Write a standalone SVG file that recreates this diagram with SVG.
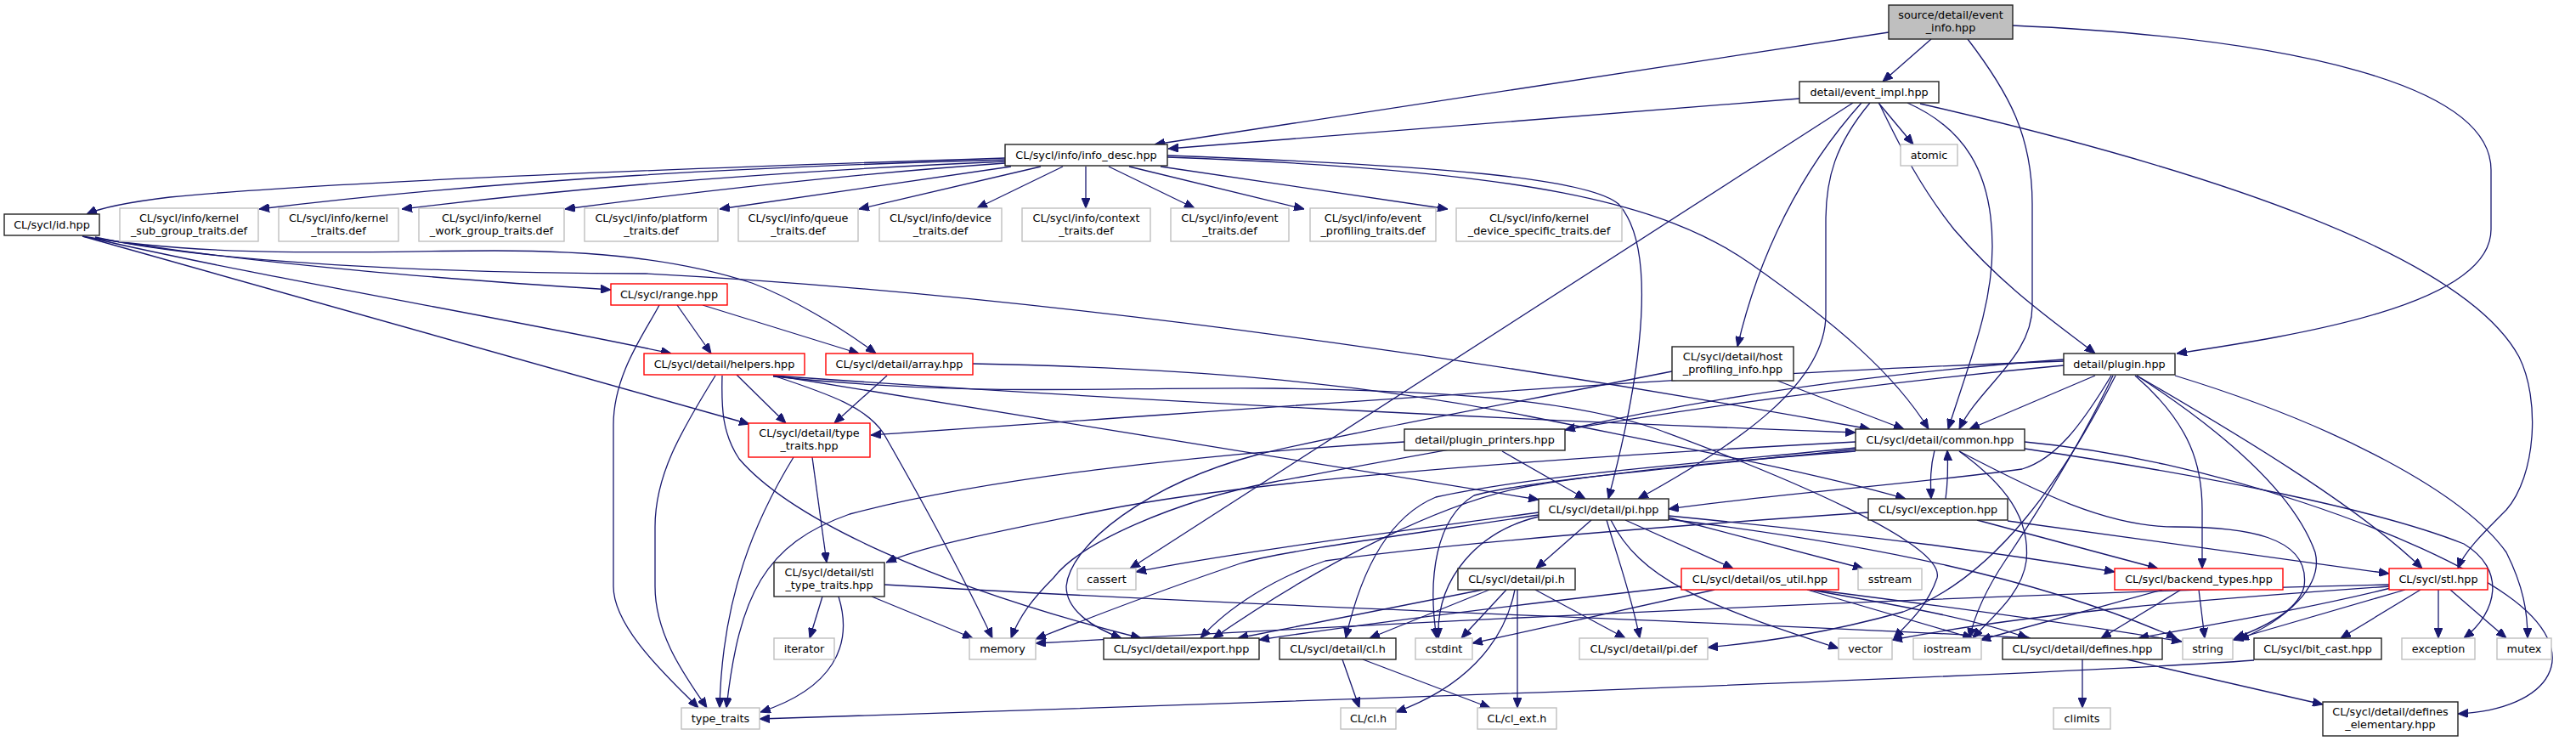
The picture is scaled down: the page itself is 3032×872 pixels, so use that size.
<svg xmlns="http://www.w3.org/2000/svg" width="3032" height="872" viewBox="0 0 3032 872">
<defs>
<marker id="ah" viewBox="0 0 12 10" refX="12" refY="5" markerWidth="12" markerHeight="10" markerUnits="userSpaceOnUse" orient="auto">
<path d="M0,0 L12,5 L0,10 z" fill="#191970" stroke="#191970" stroke-width="1"/>
</marker>
<style>
.e path{fill:none;stroke:#191970;stroke-width:1.3;marker-end:url(#ah)}
rect{stroke-width:1.4}
.nb rect{fill:#ffffff;stroke:#222222}
.ng rect{fill:#ffffff;stroke:#bfbfbf}
.nr rect{fill:#ffffff;stroke:#ff0000}
.ns rect{fill:#bfbfbf;stroke:#222222}
text{font-family:"DejaVu Sans","Liberation Sans",sans-serif;font-size:12.8px;text-anchor:middle;fill:#000000}
</style>
</defs>
<rect x="0" y="0" width="3032" height="872" fill="#ffffff"/>
<g id="connectors" class="e">
<path d="M2273,46 L2216,96"/>
<path d="M2223,38 L1359,170"/>
<path d="M2118,116 L1375,175"/>
<path d="M2211,121 L2252,170"/>
<path d="M2316,46 C2365,110 2392,160 2392,240 L2392,360 C2392,420 2330,455 2306,505"/>
<path d="M2369,30 C2700,45 2932,100 2932,200 L2932,270 C2932,360 2700,395 2562,416"/>
<path d="M2181,121 L1330,669"/>
<path d="M2191,121 C2120,200 2070,300 2045,408"/>
<path d="M2201,121 C2160,170 2149,210 2149,260 L2149,370 C2149,450 2050,520 1928,587"/>
<path d="M2245,121 C2310,150 2345,200 2345,290 C2345,360 2320,420 2293,505"/>
<path d="M2212,122 C2240,180 2262,222 2300,270 C2360,340 2420,380 2466,416"/>
<path d="M2260,122 C2600,200 2900,300 2965,420 C2990,470 2985,560 2950,600 C2920,630 2900,650 2893,669"/>
<path d="M1183,186 C900,195 400,212 200,232 C150,238 120,244 102,252"/>
<path d="M1183,188 C900,196 600,210 305,246"/>
<path d="M1183,190 C1000,198 750,212 473,246"/>
<path d="M1183,192 C1000,205 800,228 665,246"/>
<path d="M1190,196 L847,246"/>
<path d="M1225,196 L1011,246"/>
<path d="M1251,196 L1150,245"/>
<path d="M1278,196 L1278,245"/>
<path d="M1305,196 L1406,245"/>
<path d="M1329,196 L1535,246"/>
<path d="M1366,196 L1704,246"/>
<path d="M1374,183 C1700,195 1870,210 1905,240 C1950,290 1935,430 1893,587"/>
<path d="M1374,185 C1800,200 1960,240 2060,310 C2160,380 2230,440 2270,505"/>
<path d="M112,280 C300,312 550,330 719,341"/>
<path d="M97,278 C250,305 450,295 582,295 C700,295 800,305 885,333 C930,350 990,385 1031,416"/>
<path d="M107,280 C300,325 600,375 790,416"/>
<path d="M97,278 L882,499"/>
<path d="M112,279 C260,312 560,322 760,322 C1300,350 1900,450 2201,505"/>
<path d="M797,359 L837,416"/>
<path d="M827,359 L1011,416"/>
<path d="M776,359 C760,390 722,440 722,500 L722,690 C722,740 790,800 822,833"/>
<path d="M867,441 L925,498"/>
<path d="M910,442 C1300,470 1800,495 2184,509"/>
<path d="M919,443 L1811,588"/>
<path d="M850,442 C849,480 850,510 870,540 C930,610 1100,690 1343,751"/>
<path d="M910,442 C980,465 1020,480 1040,510 C1080,580 1130,670 1168,751"/>
<path d="M842,442 C800,510 771,560 771,620 L771,690 C771,750 810,800 832,833"/>
<path d="M910,443 C1150,468 1300,455 1500,457 C1700,460 1850,470 1950,505 C2100,560 2290,640 2280,680 C2270,710 2250,730 2229,751"/>
<path d="M1044,442 L982,498"/>
<path d="M1145,428 C1400,433 1600,450 1800,490 C2000,530 2150,560 2243,587"/>
<path d="M956,538 L973,662"/>
<path d="M934,538 C890,610 850,700 847,833"/>
<path d="M968,702 L953,751"/>
<path d="M1026,702 L1145,751"/>
<path d="M987,702 C1005,760 980,810 895,838"/>
<path d="M1041,688 C1500,715 2000,730 2390,751"/>
<path d="M2092,448 L2241,505"/>
<path d="M1968,437 C1750,480 1560,515 1480,535 C1350,570 1260,640 1255,690 C1255,720 1290,740 1320,751"/>
<path d="M2429,425 C2000,440 1500,480 1025,512"/>
<path d="M2429,423 C2200,440 2000,470 1842,506"/>
<path d="M2429,430 C2000,470 1700,530 1500,567 C1380,590 1270,640 1240,680 C1215,705 1200,725 1190,751"/>
<path d="M2466,442 L2318,505"/>
<path d="M2485,442 C2450,500 2420,540 2380,552 C2250,570 2100,580 1964,599"/>
<path d="M2513,442 C2580,500 2592,550 2592,600 L2592,669"/>
<path d="M2515,442 C2650,520 2780,600 2851,669"/>
<path d="M2560,442 C2750,500 2900,580 2950,650 C2970,690 2975,720 2975,751"/>
<path d="M2490,442 C2430,560 2350,680 2240,720 C2150,745 2080,755 2010,762"/>
<path d="M2487,442 C2450,520 2400,600 2360,660 C2340,690 2325,720 2318,751"/>
<path d="M2515,442 C2620,510 2700,580 2725,650 C2735,690 2690,730 2635,753"/>
<path d="M1768,531 L1866,587"/>
<path d="M1653,520 C1400,535 1150,565 1000,605 C900,640 870,700 855,833"/>
<path d="M2277,530 C2272,550 2272,565 2273,587"/>
<path d="M2290,587 C2293,565 2293,550 2292,530"/>
<path d="M2184,520 C1900,535 1500,560 1300,600 C1150,630 1080,645 1043,662"/>
<path d="M2184,527 C2000,545 1800,560 1690,585 C1630,610 1600,680 1584,751"/>
<path d="M2184,529 C2000,548 1800,565 1735,583 C1690,610 1680,680 1691,751"/>
<path d="M2184,531 C2000,545 1880,558 1800,572 C1700,590 1560,660 1428,751"/>
<path d="M2306,531 C2360,570 2390,610 2385,660 C2380,700 2340,730 2322,751"/>
<path d="M2306,531 C2400,580 2480,620 2560,620 C2640,620 2720,630 2712,690 C2705,720 2660,740 2630,751"/>
<path d="M2383,520 C2600,540 2850,630 2950,700 C3050,770 3000,835 2893,840"/>
<path d="M2383,528 C2600,560 2800,600 2900,640 C2950,670 2940,720 2900,751"/>
<path d="M2327,612 L2540,669"/>
<path d="M2363,613 L2812,675"/>
<path d="M2199,603 C1950,620 1700,640 1560,660 C1500,680 1445,715 1413,751"/>
<path d="M1873,612 L1808,669"/>
<path d="M1913,612 L2040,669"/>
<path d="M1964,609 L2193,669"/>
<path d="M1891,612 C1905,660 1920,700 1930,751"/>
<path d="M1896,612 C1930,680 2000,710 2164,763"/>
<path d="M1811,608 C1740,625 1690,680 1693,751"/>
<path d="M1811,603 C1650,625 1450,650 1337,673"/>
<path d="M1811,606 C1650,630 1500,650 1460,663 C1380,690 1300,720 1219,752"/>
<path d="M1964,607 C2200,630 2350,650 2489,673"/>
<path d="M1964,611 C2200,640 2400,680 2562,751"/>
<path d="M1753,694 L1612,751"/>
<path d="M1773,694 L1720,751"/>
<path d="M1807,694 L1913,751"/>
<path d="M1783,694 C1770,760 1720,810 1643,838"/>
<path d="M1786,694 L1786,833"/>
<path d="M1745,694 L1457,751"/>
<path d="M2018,694 L1733,757"/>
<path d="M1979,690 C1800,710 1600,735 1482,753"/>
<path d="M2127,694 L2322,751"/>
<path d="M2130,694 C2250,715 2330,730 2387,751"/>
<path d="M2135,694 C2300,715 2450,735 2568,755"/>
<path d="M2545,694 L2331,753"/>
<path d="M2567,694 L2473,751"/>
<path d="M2588,694 L2595,751"/>
<path d="M2870,694 L2870,751"/>
<path d="M2884,694 L2950,751"/>
<path d="M2849,694 L2755,751"/>
<path d="M2831,694 L2628,753"/>
<path d="M2812,690 C2600,705 2400,720 2227,753"/>
<path d="M2812,688 C2300,700 1700,730 1219,757"/>
<path d="M2814,692 C2700,720 2600,735 2517,751"/>
<path d="M2451,776 L2451,833"/>
<path d="M2503,776 L2734,829"/>
<path d="M2653,777 C2400,795 1700,820 894,846"/>
<path d="M1580,776 L1600,833"/>
<path d="M1604,776 L1754,833"/>
</g>
<g id="n_src" class="ns"><rect x="2223" y="6" width="146" height="40"/><text x="2296" y="22">source/detail/event</text><text x="2296" y="37">_info.hpp</text></g>
<g id="n_eimpl" class="nb"><rect x="2118" y="96" width="164" height="25"/><text x="2200" y="113">detail/event_impl.hpp</text></g>
<g id="n_infodesc" class="nb"><rect x="1183" y="170" width="191" height="25"/><text x="1278.5" y="187">CL/sycl/info/info_desc.hpp</text></g>
<g id="n_atomic" class="ng"><rect x="2237" y="170" width="67" height="25"/><text x="2270.5" y="187">atomic</text></g>
<g id="n_id" class="nb"><rect x="5" y="252" width="112" height="25"/><text x="61" y="269">CL/sycl/id.hpp</text></g>
<g id="n_ksg" class="ng"><rect x="141" y="245" width="163" height="39"/><text x="222.5" y="261">CL/sycl/info/kernel</text><text x="222.5" y="276">_sub_group_traits.def</text></g>
<g id="n_kt" class="ng"><rect x="328" y="245" width="141" height="39"/><text x="398.5" y="261">CL/sycl/info/kernel</text><text x="398.5" y="276">_traits.def</text></g>
<g id="n_kwg" class="ng"><rect x="493" y="245" width="171" height="39"/><text x="578.5" y="261">CL/sycl/info/kernel</text><text x="578.5" y="276">_work_group_traits.def</text></g>
<g id="n_plat" class="ng"><rect x="688" y="245" width="157" height="39"/><text x="766.5" y="261">CL/sycl/info/platform</text><text x="766.5" y="276">_traits.def</text></g>
<g id="n_queue" class="ng"><rect x="869" y="245" width="141" height="39"/><text x="939.5" y="261">CL/sycl/info/queue</text><text x="939.5" y="276">_traits.def</text></g>
<g id="n_dev" class="ng"><rect x="1035" y="245" width="144" height="39"/><text x="1107" y="261">CL/sycl/info/device</text><text x="1107" y="276">_traits.def</text></g>
<g id="n_ctx" class="ng"><rect x="1203" y="245" width="151" height="39"/><text x="1278.5" y="261">CL/sycl/info/context</text><text x="1278.5" y="276">_traits.def</text></g>
<g id="n_evt" class="ng"><rect x="1378" y="245" width="139" height="39"/><text x="1447.5" y="261">CL/sycl/info/event</text><text x="1447.5" y="276">_traits.def</text></g>
<g id="n_evp" class="ng"><rect x="1542" y="245" width="148" height="39"/><text x="1616" y="261">CL/sycl/info/event</text><text x="1616" y="276">_profiling_traits.def</text></g>
<g id="n_kds" class="ng"><rect x="1714" y="245" width="195" height="39"/><text x="1811.5" y="261">CL/sycl/info/kernel</text><text x="1811.5" y="276">_device_specific_traits.def</text></g>
<g id="n_range" class="nr"><rect x="719" y="334" width="137" height="25"/><text x="787.5" y="351">CL/sycl/range.hpp</text></g>
<g id="n_helpers" class="nr"><rect x="758" y="416" width="189" height="25"/><text x="852.5" y="433">CL/sycl/detail/helpers.hpp</text></g>
<g id="n_array" class="nr"><rect x="972" y="416" width="173" height="25"/><text x="1058.5" y="433">CL/sycl/detail/array.hpp</text></g>
<g id="n_hpi" class="nb"><rect x="1968" y="408" width="143" height="40"/><text x="2039.5" y="424">CL/sycl/detail/host</text><text x="2039.5" y="439">_profiling_info.hpp</text></g>
<g id="n_plugin" class="nb"><rect x="2429" y="416" width="131" height="25"/><text x="2494.5" y="433">detail/plugin.hpp</text></g>
<g id="n_tt" class="nr"><rect x="881" y="498" width="143" height="40"/><text x="952.5" y="514">CL/sycl/detail/type</text><text x="952.5" y="529">_traits.hpp</text></g>
<g id="n_pp" class="nb"><rect x="1653" y="505" width="189" height="25"/><text x="1747.5" y="522">detail/plugin_printers.hpp</text></g>
<g id="n_common" class="nb"><rect x="2184" y="505" width="199" height="25"/><text x="2283.5" y="522">CL/sycl/detail/common.hpp</text></g>
<g id="n_pihpp" class="nb"><rect x="1811" y="587" width="153" height="25"/><text x="1887.5" y="604">CL/sycl/detail/pi.hpp</text></g>
<g id="n_exc" class="nb"><rect x="2199" y="587" width="164" height="25"/><text x="2281" y="604">CL/sycl/exception.hpp</text></g>
<g id="n_stt" class="nb"><rect x="911" y="662" width="130" height="40"/><text x="976" y="678">CL/sycl/detail/stl</text><text x="976" y="693">_type_traits.hpp</text></g>
<g id="n_cassert" class="ng"><rect x="1268" y="669" width="69" height="25"/><text x="1302.5" y="686">cassert</text></g>
<g id="n_pih" class="nb"><rect x="1716" y="669" width="138" height="25"/><text x="1785" y="686">CL/sycl/detail/pi.h</text></g>
<g id="n_osutil" class="nr"><rect x="1979" y="669" width="185" height="25"/><text x="2071.5" y="686">CL/sycl/detail/os_util.hpp</text></g>
<g id="n_sstream" class="ng"><rect x="2187" y="669" width="75" height="25"/><text x="2224.5" y="686">sstream</text></g>
<g id="n_backend" class="nr"><rect x="2489" y="669" width="198" height="25"/><text x="2588" y="686">CL/sycl/backend_types.hpp</text></g>
<g id="n_stl" class="nr"><rect x="2812" y="669" width="116" height="25"/><text x="2870" y="686">CL/sycl/stl.hpp</text></g>
<g id="n_iterator" class="ng"><rect x="911" y="751" width="71" height="25"/><text x="946.5" y="768">iterator</text></g>
<g id="n_memory" class="ng"><rect x="1141" y="751" width="78" height="25"/><text x="1180" y="768">memory</text></g>
<g id="n_export" class="nb"><rect x="1299" y="751" width="183" height="25"/><text x="1390.5" y="768">CL/sycl/detail/export.hpp</text></g>
<g id="n_clh" class="nb"><rect x="1506" y="751" width="137" height="25"/><text x="1574.5" y="768">CL/sycl/detail/cl.h</text></g>
<g id="n_cstdint" class="ng"><rect x="1666" y="751" width="67" height="25"/><text x="1699.5" y="768">cstdint</text></g>
<g id="n_pidef" class="ng"><rect x="1859" y="751" width="151" height="25"/><text x="1934.5" y="768">CL/sycl/detail/pi.def</text></g>
<g id="n_vector" class="ng"><rect x="2164" y="751" width="63" height="25"/><text x="2195.5" y="768">vector</text></g>
<g id="n_iostream" class="ng"><rect x="2252" y="751" width="80" height="25"/><text x="2292" y="768">iostream</text></g>
<g id="n_defines" class="nb"><rect x="2357" y="751" width="188" height="25"/><text x="2451" y="768">CL/sycl/detail/defines.hpp</text></g>
<g id="n_string" class="ng"><rect x="2569" y="751" width="59" height="25"/><text x="2598.5" y="768">string</text></g>
<g id="n_bitcast" class="nb"><rect x="2653" y="751" width="150" height="25"/><text x="2728" y="768">CL/sycl/bit_cast.hpp</text></g>
<g id="n_excstd" class="ng"><rect x="2827" y="751" width="86" height="25"/><text x="2870" y="768">exception</text></g>
<g id="n_mutex" class="ng"><rect x="2939" y="751" width="64" height="25"/><text x="2971" y="768">mutex</text></g>
<g id="n_tts" class="ng"><rect x="802" y="833" width="92" height="25"/><text x="848" y="850">type_traits</text></g>
<g id="n_clcl" class="ng"><rect x="1578" y="833" width="65" height="25"/><text x="1610.5" y="850">CL/cl.h</text></g>
<g id="n_clext" class="ng"><rect x="1739" y="833" width="93" height="25"/><text x="1785.5" y="850">CL/cl_ext.h</text></g>
<g id="n_climits" class="ng"><rect x="2417" y="833" width="67" height="25"/><text x="2450.5" y="850">climits</text></g>
<g id="n_defel" class="nb"><rect x="2734" y="826" width="159" height="40"/><text x="2813.5" y="842">CL/sycl/detail/defines</text><text x="2813.5" y="857">_elementary.hpp</text></g>
</svg>
